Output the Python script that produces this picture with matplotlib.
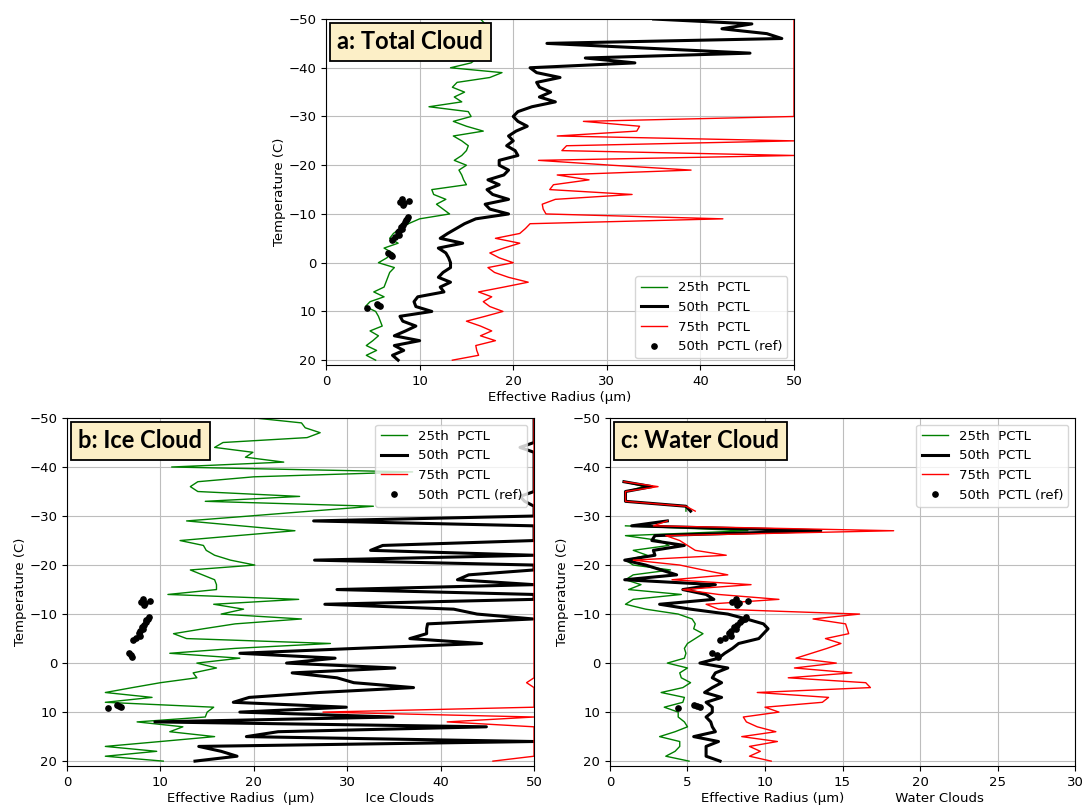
import numpy as np
import matplotlib
matplotlib.use("Agg")
import matplotlib.pyplot as plt

nan = np.nan

# temperature levels (C)
temp = np.arange(-50, 21)          # panels a and b
temp_w = np.arange(-37, 21)        # panel c (water cloud)

# ---- a: total cloud
a_p25 = [16.5, 17.0, 17.2, 17.0, 17.6, 17.0, 16.5, 15.8, 16.2, 15.5,
         13.3, 18.8, 17.5, 14.0, 13.5, 14.8, 13.7, 14.5, 11.0, 15.2,
         15.5, 13.6, 15.0, 16.8, 13.6, 14.5, 15.2, 15.0, 14.5, 13.7,
         15.0, 14.2, 14.5, 14.7, 15.0, 11.3, 11.5, 12.8, 11.8, 12.5,
         13.2, 10.0, 8.8, 7.9, 7.2, 6.8, 7.7, 6.2, 7.1, 6.5,
         5.6, 7.3, 6.8, 6.6, 6.4, 6.2, 5.1, 6.2, 4.7, 4.2,
         5.3, 5.6, 5.8, 6.0, 4.7, 5.6, 5.0, 4.3, 5.4, 4.3, 5.3]
a_p50 = [35.0, 45.5, 42.3, 47.1, 48.7, 23.6, 34.5, 45.3, 27.7, 33.0,
         21.8, 22.5, 25.0, 22.5, 22.8, 24.0, 22.8, 24.5, 22.0, 20.5,
         20.0, 20.5, 21.5, 20.3, 19.5, 20.0, 19.3, 20.2, 20.5, 18.5,
         18.5, 19.5, 19.0, 17.3, 18.5, 17.2, 17.8, 19.5, 17.0, 17.5,
         19.5, 16.0, 14.8, 13.9, 13.0, 12.2, 14.6, 12.0, 12.8, 13.1,
         13.3, 13.3, 12.5, 12.0, 13.3, 12.2, 12.6, 9.8, 9.4, 9.6,
         11.3, 7.9, 8.2, 9.6, 8.5, 7.3, 10.0, 7.3, 8.3, 7.1, 7.7]
a_p75 = [50.0, 50.0, 50.0, 50.0, 50.0, 50.0, 50.0, 50.0, 50.0, 50.0,
         50.0, 50.0, 50.0, 50.0, 50.0, 50.0, 50.0, 50.0, 50.0, 50.0,
         50.0, 27.5, 33.5, 33.2, 24.7, 50.0, 25.7, 25.2, 50.0, 22.7,
         30.5, 39.0, 24.7, 28.1, 24.3, 23.9, 32.7, 24.5, 23.1, 23.2,
         23.5, 42.4, 21.8, 21.3, 20.7, 18.1, 20.7, 19.0, 17.5, 18.5,
         20.0, 17.3, 18.0, 19.5, 21.6, 19.0, 16.3, 17.7, 16.8, 17.5,
         18.9, 17.0, 15.0, 16.5, 17.7, 16.5, 18.1, 16.0, 16.1, 16.3, 13.5]

# ---- b: ice cloud
b_p25 = [20.1, 25.1, 25.5, 27.1, 25.7, 16.7, 15.8, 19.9, 19.1, 23.2,
         11.2, 37.0, 20.0, 14.0, 13.2, 14.0, 24.9, 14.8, 32.8, 26.1,
         19.5, 12.8, 18.6, 24.4, 18.2, 12.1, 14.6, 14.9, 15.8, 17.5,
         20.1, 13.2, 14.5, 15.8, 16.0, 16.0, 10.8, 24.8, 15.7, 18.9,
         16.5, 25.1, 18.0, 14.6, 11.4, 12.8, 28.2, 18.0, 11.0, 18.5,
         13.9, 16.0, 13.5, 13.9, 10.0, 7.0, 4.1, 9.1, 4.1, 15.7,
         15.0, 14.8, 7.5, 12.4, 11.0, 15.8, 10.0, 4.1, 9.6, 4.1, 10.3]
b_p50 = [50.0, 50.0, 50.0, 50.0, 50.0, 50.0, 48.5, 50.0, 50.0, 50.0,
         50.0, 50.0, 50.0, 50.0, 50.0, 50.0, 48.5, 49.0, 50.0, 50.0,
         50.0, 26.4, 50.0, 50.0, 50.0, 50.0, 33.8, 32.5, 50.0, 26.5,
         50.0, 50.0, 43.0, 41.8, 50.0, 28.9, 50.0, 50.0, 27.6, 41.4,
         43.9, 49.9, 38.6, 38.5, 38.5, 36.7, 44.4, 31.0, 18.5, 28.7,
         23.5, 35.1, 24.1, 28.9, 30.7, 37.1, 27.0, 19.5, 17.8, 29.9,
         18.5, 34.9, 9.4, 44.9, 22.6, 19.2, 50.0, 14.1, 16.5, 18.2, 13.7]
b_p75 = [50.0, 50.0, 50.0, 50.0, 50.0, 50.0, 50.0, 50.0, 50.0, 50.0,
         50.0, 50.0, 50.0, 50.0, 50.0, 50.0, 50.0, 50.0, 50.0, 50.0,
         50.0, 50.0, 50.0, 50.0, 50.0, 50.0, 50.0, 50.0, 50.0, 50.0,
         50.0, 50.0, 50.0, 50.0, 50.0, 50.0, 50.0, 50.0, 50.0, 50.0,
         50.0, 50.0, 50.0, 50.0, 50.0, 50.0, 50.0, 50.0, 50.0, 50.0,
         50.0, 50.0, 50.0, 50.0, 49.2, 50.0, 50.0, 50.0, 50.0, 50.0,
         27.4, 50.0, 40.7, 50.0, 50.0, 50.0, 50.0, 50.0, 50.0, 50.0, 45.6]

# ---- c: water cloud (-37 .. 20)
c_p25 = [0.9, 2.2, 1.0, 1.0, 1.0, 4.9, 4.9,
         nan,
         nan, 1.0, 8.9, 1.0, 3.2, 3.8, 1.5, 2.4, 1.0,
         1.5, 3.9, 1.5, 1.0, 2.0, 1.2, 4.6, 1.5, 1.0, 2.3,
         4.4, 5.3, 5.5, 5.4, 6.0, 5.5, 5.0, 4.8, 4.9, 4.8,
         3.7, 5.0, 4.5, 4.6, 5.2, 4.7, 3.3, 4.8, 4.7, 3.5,
         4.4, 4.4, 4.8, 5.0, 4.2, 3.2, 4.5, 4.5, 4.2, 3.6, 5.1]
c_p50 = [0.9, 2.7, 1.0, 1.0, 1.0, 4.9, 5.2,
         nan,
         3.7, 1.4, 13.6, 2.9, 2.7, 4.8, 2.8, 2.9, 0.95,
         2.3, 3.3, 4.3, 0.95, 6.8, 4.7, 6.2, 6.7, 3.2, 5.2,
         7.6, 8.8, 9.9, 10.2, 9.9, 9.6, 8.3, 7.9, 7.4, 7.0,
         5.8, 7.6, 6.8, 6.6, 7.2, 6.6, 6.1, 7.2, 6.2, 6.6,
         6.6, 6.2, 6.5, 6.6, 6.8, 5.4, 7.0, 6.2, 6.2, 6.2, 7.1]
c_p75 = [0.9, 3.1, 1.0, 1.0, 1.0, 4.9, 5.5,
         nan,
         3.7, 2.8, 18.3, 3.6, 4.5, 5.0, 5.5, 7.5, 1.5,
         4.5, 6.0, 7.6, 4.0, 9.1, 4.7, 7.0, 10.9, 6.2, 7.0,
         16.1, 13.1, 15.2, 15.3, 15.4, 13.9, 14.9, 14.0, 13.0, 12.0,
         14.6, 11.9, 15.6, 11.5, 16.5, 16.8, 9.5, 14.1, 13.7, 10.0,
         10.9, 8.6, 8.8, 9.5, 10.7, 8.5, 10.8, 9.0, 9.7, 9.0, 10.4]

# reference median (same points in every panel)
ref_t = [-13.0, -12.7, -12.5, -12.2, -11.8, -9.3, -9.0, -8.7, -8.3, -7.8, -7.4,
         -7.0, -6.6, -6.2, -5.6, -5.2, -4.7, -2.0, -1.6, -1.3, 8.5, 8.7, 8.9, 9.2]
ref_r = [8.1, 8.9, 7.9, 8.3, 8.2, 8.8, 8.7, 8.5, 8.4, 8.2, 8.0,
         8.1, 7.8, 7.7, 7.8, 7.4, 7.1, 6.6, 6.9, 7.0, 5.4, 5.6, 5.8, 4.4]

titles = ["a: Total Cloud", "b: Ice Cloud", "c: Water Cloud"]
xlabels = ["Effective Radius (μm)",
           "Effective Radius  (μm)            Ice Clouds",
           "Effective Radius (μm)            Water Clouds"]

fig = plt.figure(figsize=(10.85, 8.06), dpi=100)
ax_a = fig.add_axes([0.3005, 0.5471, 0.4313, 0.4293])
ax_b = fig.add_axes([0.0618, 0.0496, 0.4304, 0.4318])
ax_c = fig.add_axes([0.5622, 0.0496, 0.4286, 0.4318])

panels = [
    (ax_a, temp, a_p25, a_p50, a_p75, 50, 10, "lower right"),
    (ax_b, temp, b_p25, b_p50, b_p75, 50, 10, "upper right"),
    (ax_c, temp_w, c_p25, c_p50, c_p75, 30, 5, "upper right"),
]

for i, (ax, t, p25, p50, p75, xmax, xstep, loc) in enumerate(panels):
    ax.plot(p25, t, color="green", lw=1.0, label="25th  PCTL")
    ax.plot(p50, t, color="black", lw=2.2, label="50th  PCTL")
    ax.plot(p75, t, color="red", lw=1.0, label="75th  PCTL")
    ax.plot(ref_r, ref_t, "o", color="black", ms=3.8, label="50th  PCTL (ref)")
    ax.set_xlim(0, xmax)
    ax.set_ylim(21, -50)
    ax.set_xticks(np.arange(0, xmax + 1, xstep))
    ax.set_yticks(np.arange(-50, 21, 10))
    ax.tick_params(labelsize=9.5)
    ax.grid(True, color="#bdbdbd", lw=0.8)
    ax.set_xlabel(xlabels[i], fontsize=9.5, labelpad=2)
    ax.set_ylabel("Temperature (C)", fontsize=9.5, labelpad=2)
    ax.legend(loc=loc, fontsize=9.5)
    ax.text(0.024, 0.968, titles[i], transform=ax.transAxes, va="top", ha="left",
            fontsize=17, fontweight="bold", family="Lato", zorder=5,
            bbox=dict(boxstyle="square,pad=0.32", fc="#fcefc7", ec="black", lw=1.3))

fig.savefig("out.png", dpi=100)
